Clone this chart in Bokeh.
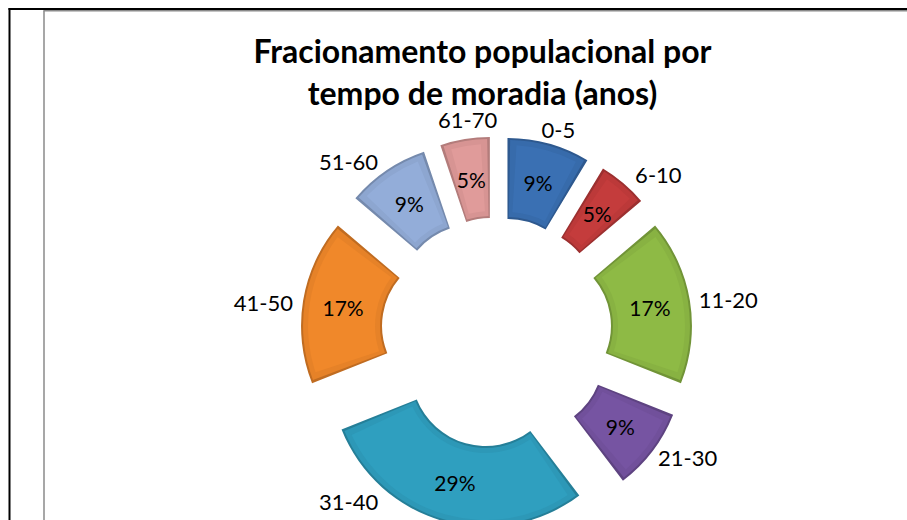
import numpy as np
from bokeh.plotting import figure
from bokeh.models import Range1d
from bokeh.core.properties import value
from bokeh.embed import file_html
from bokeh.resources import INLINE

# ---- data ----
categories = ["0-5", "6-10", "11-20", "21-30", "31-40", "41-50", "51-60", "61-70"]
counts = [5, 3, 10, 5, 17, 10, 5, 3]
pct_labels = ["9%", "5%", "17%", "9%", "29%", "17%", "9%", "5%"]
colors = ["#3A70B3", "#C43C3C", "#8EBA45", "#7654A2", "#2F9FBF", "#F0882A", "#93ADD9", "#E09B9A"]
title_lines = ["Fracionamento populacional por", "tempo de moradia (anos)"]

# ---- layout parameters ----
W, H = 907, 520
TOP = H                    # data y of picture top
CX, CY = 496, TOP - 332    # donut centre (data units = px)
R_OUT, R_IN = 155, 74
EXPLODE = 41
# manual label placement (angle clockwise from top, distance from slice centre)
lab_ang = [17.4, 47.0, 82.4, 122.5, 226.4, 276.6, 317.5, 352.6]
lab_dist = [170, 185, 193, 188, 189, 194, 185, 173]

def shade(hexc, f):
    h = hexc.lstrip("#")
    r, g, b = (int(h[i:i + 2], 16) for i in (0, 2, 4))
    if f < 1:
        r, g, b = (int(c * f) for c in (r, g, b))
    else:
        r, g, b = (int(c + (255 - c) * (f - 1)) for c in (r, g, b))
    return "#%02x%02x%02x" % (r, g, b)

p = figure(width=W, height=H, output_backend="svg", toolbar_location=None,
           x_range=Range1d(0, W), y_range=Range1d(0, H), min_border=0)
p.axis.visible = False
p.grid.visible = False
p.outline_line_color = None
p.background_fill_color = "white"
p.border_fill_color = "white"

# frame lines (table cell border and chart border)
p.line([9, 9], [0, TOP - 7.5], line_color="black", line_width=2)
p.line([8, W], [TOP - 8.5, TOP - 8.5], line_color="black", line_width=2)
p.line([43.5, 43.5], [0, TOP - 10], line_color="#8a8a8a", line_width=1.5)
p.line([43, W], [TOP - 10.2, TOP - 10.2], line_color="#8a8a8a", line_width=1.5)

vals = np.array(counts, dtype=float)
frac = vals / vals.sum()
cum = np.concatenate([[0], np.cumsum(frac)]) * 360.0  # clockwise from top
t1, t2 = cum[:-1], cum[1:]
mid = (t1 + t2) / 2
rad = np.radians(mid)
ox = CX + EXPLODE * np.sin(rad)
oy = CY + EXPLODE * np.cos(rad)
start = np.radians(90 - t2)
end = np.radians(90 - t1)
rm = (R_IN + R_OUT) / 2

# dark rim
p.annular_wedge(x=ox, y=oy, inner_radius=R_IN, outer_radius=R_OUT,
                start_angle=start, end_angle=end,
                fill_color=[shade(c, 0.8) for c in colors], line_color=None)
# main body
inset = 2.0
p.annular_wedge(x=ox, y=oy, inner_radius=R_IN + inset, outer_radius=R_OUT - inset,
                start_angle=start + inset / rm, end_angle=end - inset / rm,
                fill_color=[shade(c, 0.96) for c in colors], line_color=None)
# soft inner highlight
inset2 = 7.0
p.annular_wedge(x=ox, y=oy, inner_radius=R_IN + inset2, outer_radius=R_OUT - inset2,
                start_angle=start + inset2 / rm, end_angle=end - inset2 / rm,
                fill_color=colors, line_color=None)

# percentage labels
p.text(x=ox + rm * np.sin(rad), y=oy + rm * np.cos(rad), text=pct_labels,
       text_align="center", text_baseline="middle", text_font=value("Lato"),
       text_font_size="21px", text_color="black")

# category labels
la = np.radians(lab_ang)
ld = np.array(lab_dist)
p.text(x=ox + ld * np.sin(la), y=oy + ld * np.cos(la), text=categories,
       text_align="center", text_baseline="middle", text_font=value("Lato"),
       text_font_size="22px", text_color="black")

# title
p.text(x=[482, 482], y=[TOP - 50, TOP - 92], text=title_lines, text_align="center",
       text_baseline="middle", text_font=value("Lato"), text_font_style="bold",
       text_font_size="32px", text_color="black")

open("out.html", "w").write(file_html(p, INLINE))
